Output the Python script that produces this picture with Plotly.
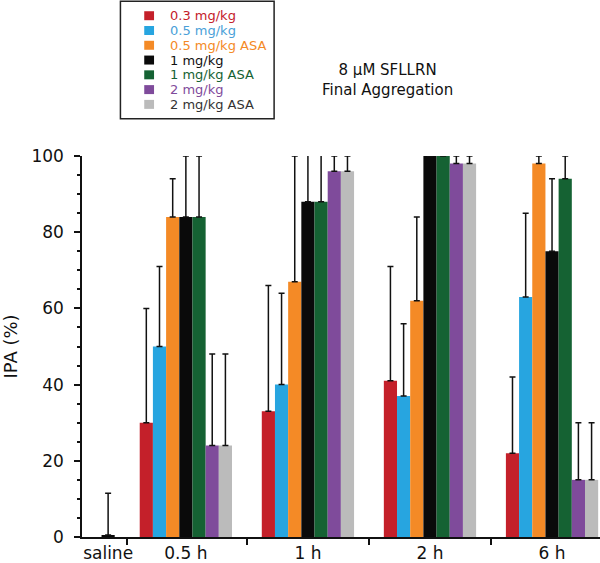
import plotly.graph_objects as go

# ---- data ----
groups = ["0.5 h", "1 h", "2 h", "6 h"]
series_names = ["0.3 mg/kg", "0.5 mg/kg", "0.5 mg/kg ASA", "1 mg/kg",
                "1 mg/kg ASA", "2 mg/kg", "2 mg/kg ASA"]
series_colors = ["#C4202A", "#27A5E0", "#F48A26", "#0A0A0A",
                 "#156233", "#7F4B9B", "#BBBBBB"]
legend_text_colors = ["#C4202A", "#4A9FD8", "#F48A26", "#111111",
                      "#156233", "#7F4B9B", "#333333"]

ipa_03 = [30, 33, 41, 22]
ipa_05 = [50, 40, 37, 63]
ipa_05_asa = [84, 67, 62, 98]
ipa_1 = [84, 88, 100, 75]
ipa_1_asa = [84, 88, 100, 94]
ipa_2 = [24, 96, 98, 15]
ipa_2_asa = [24, 96, 98, 15]

err_03 = [30, 33, 30, 20]
err_05 = [21, 24, 19, 22]
err_05_asa = [10, 33, 22, 2]
err_1 = [16, 13, 0.5, 19]
err_1_asa = [16, 13, 0.5, 6]
err_2 = [24, 4, 2, 15]
err_2_asa = [24, 4, 2, 15]

saline_label = ["saline"]
saline_value = [0.5]
saline_err = [11]

series_values = [ipa_03, ipa_05, ipa_05_asa, ipa_1, ipa_1_asa, ipa_2, ipa_2_asa]
series_errs = [err_03, err_05, err_05_asa, err_1, err_1_asa, err_2, err_2_asa]

# ---- layout helpers ----
group_pos = [1, 2, 3, 4]
saline_pos = [0.363]
separator_pos = [0.52, 1.5, 2.5, 3.5]
bar_w = 0.108
n_series = len(series_names)

W, H = 600, 563
ML, MR, MT, MB = 82.3, 0, 155.7, 25.7
PW, PH = W - ML - MR, H - MT - MB


def px_x(px):
    return (px - ML) / PW


def px_y(py):
    return (H - MB - py) / PH


FONT = "DejaVu Sans"

fig = go.Figure()

# saline control bar
fig.add_trace(go.Bar(
    x=saline_pos, y=saline_value, width=bar_w, offset=-bar_w / 2,
    marker=dict(color="#0A0A0A", line=dict(width=0)),
    error_y=dict(type="data", array=saline_err, arrayminus=[0] * len(saline_err),
                 symmetric=False, color="#111111", thickness=1.5, width=3),
    showlegend=False, cliponaxis=False, name="saline",
))

for i in range(n_series):
    fig.add_trace(go.Bar(
        x=group_pos, y=series_values[i], width=bar_w,
        offset=(i - n_series / 2) * bar_w,
        marker=dict(color=series_colors[i], line=dict(width=0)),
        error_y=dict(type="data", array=series_errs[i],
                     arrayminus=[0] * len(series_errs[i]), symmetric=False,
                     color="#111111", thickness=1.5, width=3),
        name=series_names[i], showlegend=False,
        cliponaxis=False,
    ))

# ---- compact boxed legend (as in the reference) ----
shapes = [dict(type="rect", xref="paper", yref="paper",
               x0=px_x(120.7), x1=px_x(274.3), y0=px_y(118.5), y1=px_y(0.8),
               line=dict(color="#222222", width=1.5), fillcolor="white",
               layer="above")]
annotations = []
row0, pitch, sq = 15.2, 14.8, 9.0
for i in range(n_series):
    cy = row0 + pitch * i
    shapes.append(dict(type="rect", xref="paper", yref="paper",
                       x0=px_x(144.5), x1=px_x(144.5 + sq + 0.8),
                       y0=px_y(cy + sq / 2), y1=px_y(cy - sq / 2),
                       line=dict(width=0), fillcolor=series_colors[i],
                       layer="above"))
    annotations.append(dict(text=series_names[i], xref="paper", yref="paper",
                            x=px_x(168), y=px_y(cy), xanchor="left",
                            yanchor="middle", showarrow=False,
                            font=dict(family=FONT, size=13,
                                      color=legend_text_colors[i])))

annotations.append(dict(
    text="8 μM SFLLRN<br>Final Aggregation",
    xref="paper", yref="paper", x=px_x(388), y=px_y(80),
    xanchor="center", yanchor="middle", showarrow=False,
    font=dict(family=FONT, size=15, color="#111111"),
))

fig.update_layout(
    width=W, height=H,
    margin=dict(l=ML, r=MR, t=MT, b=MB, autoexpand=False),
    paper_bgcolor="white", plot_bgcolor="white",
    barmode="overlay", showlegend=False,
    font=dict(family=FONT, size=17, color="#111111"),
    shapes=shapes, annotations=annotations,
)

fig.update_xaxes(
    range=[0.149, 4.393],
    tickvals=saline_pos + group_pos, ticktext=saline_label + groups,
    ticks="", showline=True, linecolor="#111111", linewidth=1.5,
    showgrid=False, zeroline=False, tickangle=0,
    tickfont=dict(family=FONT, size=17),
    minor=dict(tickvals=separator_pos, ticks="outside", ticklen=6,
               tickwidth=1.5, tickcolor="#111111", showgrid=False),
)
fig.update_yaxes(
    range=[0, 100], dtick=20, tick0=0,
    ticks="outside", ticklen=6, tickwidth=1.5, tickcolor="#111111",
    ticklabelstandoff=7,
    showline=True, linecolor="#111111", linewidth=1.5,
    showgrid=False, zeroline=False,
    tickfont=dict(family=FONT, size=17),
    title=dict(text="IPA (%)", font=dict(family=FONT, size=18), standoff=10),
    minor=dict(dtick=5, ticks="outside", ticklen=3, tickwidth=1.5,
               tickcolor="#111111", showgrid=False),
)

fig.write_html("out.html",
               config={"displayModeBar": False},
               post_script="document.body.style.margin='0';"
                           "document.body.style.overflow='hidden';")
